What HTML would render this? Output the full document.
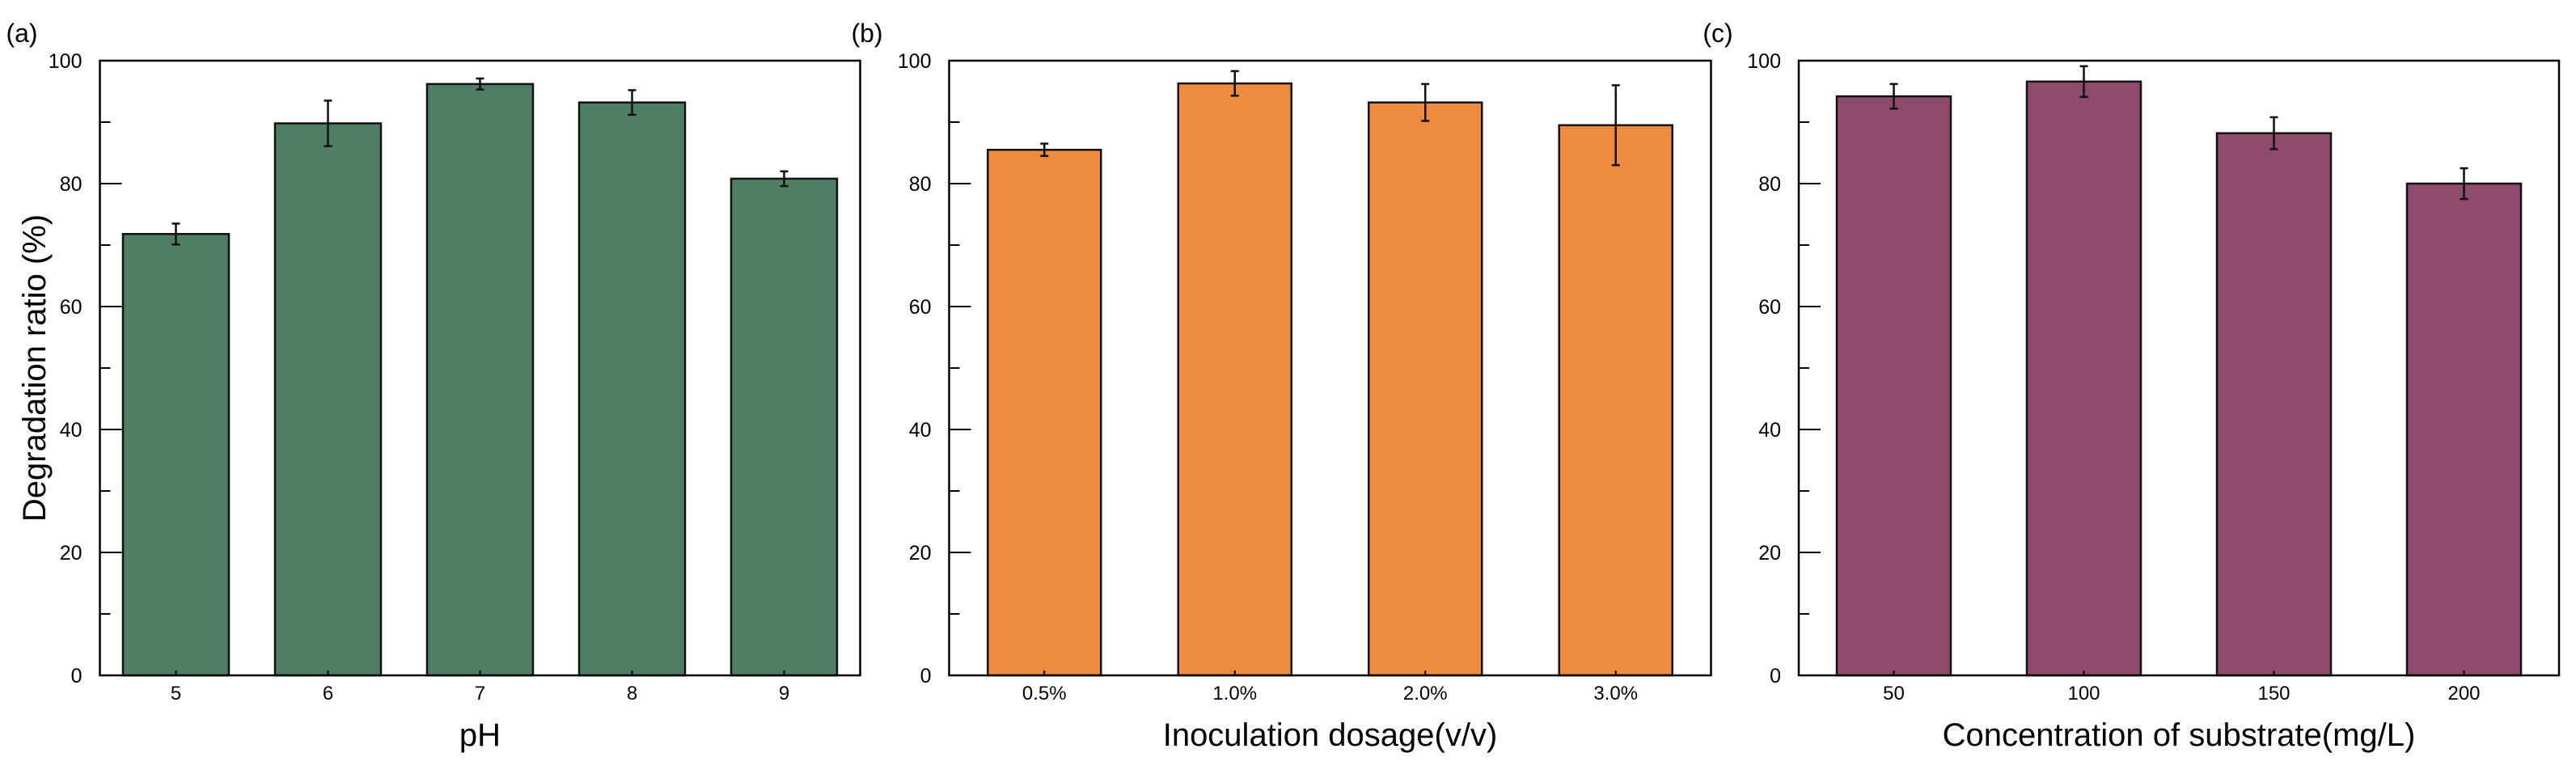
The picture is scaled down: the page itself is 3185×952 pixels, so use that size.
<!DOCTYPE html>
<html><head><meta charset="utf-8"><style>
html,body{margin:0;padding:0;background:#fff;}
svg{display:block;font-family:"Liberation Sans",Arial,sans-serif;}
</style></head><body>
<svg id="chart" width="3185" height="952" viewBox="0 0 3185 952" xmlns="http://www.w3.org/2000/svg"></svg>
<script>
const categoriesA = ["5","6","7","8","9"];
const valuesA = [71.8, 89.8, 96.2, 93.2, 80.8];
const errorsA = [1.7, 3.7, 0.9, 2.0, 1.2];
const categoriesB = ["0.5%","1.0%","2.0%","3.0%"];
const valuesB = [85.5, 96.3, 93.2, 89.5];
const errorsB = [1.0, 2.0, 3.0, 6.5];
const categoriesC = ["50","100","150","200"];
const valuesC = [94.2, 96.6, 88.2, 80.0];
const errorsC = [2.0, 2.5, 2.6, 2.5];
const yTicks = [0, 20, 40, 60, 80, 100];

const NS = "http://www.w3.org/2000/svg";
const svg = document.getElementById("chart");
function mk(tag, attrs, parent) {
  const e = document.createElementNS(NS, tag);
  for (const k in attrs) e.setAttribute(k, attrs[k]);
  (parent || svg).appendChild(e);
  return e;
}

function panel(id, left, right, cats, vals, errs, color, barW, xTitle, label, labelX, showYTitle) {
  const top = 75, bottom = 835;
  const g = mk("g", {});
  
  
  const yScale = v => bottom - (v / 100) * (bottom - top);
  const step = (right - left) / cats.length;
  const xScale = i => left + step * (i + 0.5);

  // minor/major y ticks
  for (let v = 0; v <= 100; v += 10) {
    const major = v % 20 === 0;
    const t = mk("line", {x1: left, x2: left + (major ? 27 : 13), y1: yScale(v), y2: yScale(v), stroke: "#000", "stroke-width": 2}, g);
    
    
  }
  yTicks.forEach(v => {
    const t = mk("text", {x: left - 22, y: yScale(v) + 9, "text-anchor": "end", "font-size": 25, fill: "#000"}, g);
    t.textContent = v;
    
    
  });

  cats.forEach((c, i) => {
    const cx = xScale(i);
    const b = mk("rect", {x: cx - barW / 2, y: yScale(vals[i]), width: barW, height: bottom - yScale(vals[i]), fill: color, stroke: "#111", "stroke-width": 2.5}, g);
    
    
    const eg = mk("g", {stroke: "#111", "stroke-width": 2.5}, g);
    
    
    const hi = yScale(vals[i] + errs[i]), lo = yScale(vals[i] - errs[i]);
    mk("line", {x1: cx, x2: cx, y1: hi, y2: lo}, eg);
    mk("line", {x1: cx - 5, x2: cx + 5, y1: hi, y2: hi}, eg);
    mk("line", {x1: cx - 5, x2: cx + 5, y1: lo, y2: lo}, eg);
    const tk = mk("line", {x1: cx, x2: cx, y1: bottom, y2: bottom - 6, stroke: "#000", "stroke-width": 2}, g);
    
    
    const t = mk("text", {x: cx, y: bottom + 30, "text-anchor": "middle", "font-size": 24, fill: "#000"}, g);
    t.textContent = c;
    
    
  });

  const frame = mk("rect", {x: left, y: top, width: right - left, height: bottom - top, fill: "none", stroke: "#000", "stroke-width": 2.5}, g);
  
  

  const xt = mk("text", {x: (left + right) / 2, y: 922, "text-anchor": "middle", "font-size": 40, fill: "#000"}, g);
  xt.textContent = xTitle;
  
  

  const pl = mk("text", {x: labelX, y: 52, "text-anchor": "middle", "font-size": 32, fill: "#000"}, g);
  pl.textContent = label;
  
  

  if (showYTitle) {
    const yt = mk("text", {x: 0, y: 0, "text-anchor": "middle", "font-size": 40, fill: "#000", transform: "translate(56,455) rotate(-90)"}, g);
    yt.textContent = "Degradation ratio (%)";
    
    
  }
}

panel("a", 123.5, 1063.5, categoriesA, valuesA, errorsA, "#4e7f66", 131, "pH", "(a)", 27, true);
panel("b", 1173.5, 2115.5, categoriesB, valuesB, errorsB, "#ef8b3e", 140, "Inoculation dosage(v/v)", "(b)", 1072, false);
panel("c", 2224, 3164, categoriesC, valuesC, errorsC, "#8f4b6e", 141, "Concentration of substrate(mg/L)", "(c)", 2124, false);
</script>
</body></html>
